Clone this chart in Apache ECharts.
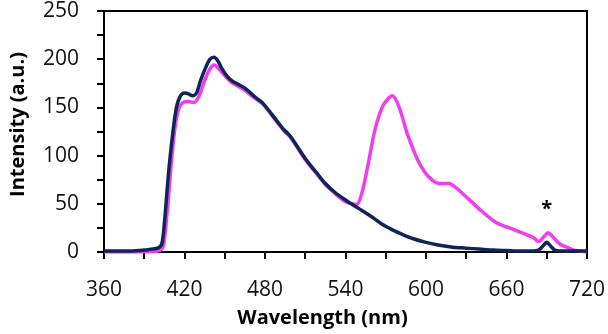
<!DOCTYPE html>
<html><head><meta charset="utf-8">
<script src="https://cdn.jsdelivr.net/npm/echarts@6/dist/echarts.min.js"></script>
<style>html,body{margin:0;padding:0;background:#fff}#c{width:608px;height:334px}</style>
</head><body><div id="c"></div>
<script>
// Wavelength (nm) / intensity pairs
const navyWl  = [360,380,390,395,400,403,405,408,411,414,417,420,423,426,429,432,436,439,442,445,448,452,456,460,465,470,475,478,485,490,494,497,500,510,518,525,532,540,550,560,567,575,582,590,600,610,620,630,640,650,660,670,680,684,687,690,693,696,700,710,720];
const navyVal = [1,1,2,3,4,8,30,80,120,150,162,165,164,162,165,178,192,200,202,198,190,182,177,174,170,164,158,155,143,134,127,123,118,97,83,71,62,54,45,36,29,23,18.5,14,10,7,5,4,3,2,1.5,1,1,2,6,10,6,2,1,1,1];
const pinkWl  = [360,380,400,404,407,410,413,416,419,423,427,431,435,439,442,445,450,455,460,465,470,478,485,490,494,497,500,510,518,525,532,540,545,548,552,557,562,568,575,580,586,594,602,610,617,622,627,634,641,647,653,660,666,673,680,684,688,691,695,700,705,710,715,720];
const pinkVal = [0,0,1,5,40,90,130,150,155,156,155,162,178,190,194,191,183,176,172,168,162,154,142,133,126,122,117,96,82,70,61,52,50,49,60,92,127,152,162,150,123,95,78,71,71,67,61,52,43,36,30,26,23,19,15,11,16,20,15,8,5,2,1,0];
const yTicks = [0,50,100,150,200,250];
const xTicks = [360,420,480,540,600,660,720];
const starMark = {wl: 690, val: 44, text: '*'};

const navy = navyWl.map((w,i)=>[w,navyVal[i]]);
const pink = pinkWl.map((w,i)=>[w,pinkVal[i]]);
const font = '"Open Sans", sans-serif';
const chart = echarts.init(document.getElementById('c'), null, {renderer:'canvas'});
chart.setOption({
  animation:false,
  backgroundColor:'#fff',
  grid:{left:101,right:21,top:11,bottom:82,show:true,borderColor:'#000',borderWidth:2,backgroundColor:'transparent'},
  xAxis:{type:'value',min:xTicks[0],max:xTicks[xTicks.length-1],interval:60,
    name:'Wavelength (nm)',nameLocation:'middle',nameGap:56,
    nameTextStyle:{fontFamily:font,fontWeight:'bold',fontSize:20,color:'#000',padding:[0,46,0,0]},
    axisLine:{show:true,onZero:false,lineStyle:{color:'#000',width:2}},
    axisTick:{show:true,length:7,lineStyle:{color:'#000',width:2}},
    minorTick:{show:true,splitNumber:2,length:7,lineStyle:{color:'#000',width:2}},
    splitLine:{show:false},
    axisLabel:{fontFamily:font,fontSize:21,color:'#111',margin:28}},
  yAxis:{type:'value',min:yTicks[0],max:yTicks[yTicks.length-1],interval:50,
    name:'Intensity (a.u.)',nameLocation:'middle',nameGap:76,
    nameTextStyle:{fontFamily:font,fontWeight:'bold',fontSize:20,color:'#000',padding:[0,0,0,14]},
    axisLine:{show:true,lineStyle:{color:'#000',width:2}},
    axisTick:{show:true,length:7,lineStyle:{color:'#000',width:2}},
    minorTick:{show:true,splitNumber:2,length:7,lineStyle:{color:'#000',width:2}},
    splitLine:{show:false},
    axisLabel:{fontFamily:font,fontSize:21,color:'#111',margin:25}},
  series:[
    {type:'line',data:pink,smooth:0.3,symbol:'none',lineStyle:{color:'#f23cf0',width:3.5},z:2,
      markPoint:{symbol:'circle',symbolSize:0,silent:true,
        data:[{coord:[starMark.wl,starMark.val],label:{show:true,formatter:starMark.text,fontFamily:font,fontWeight:'bold',fontSize:20,color:'#000',position:'inside'}}]}},
    {type:'line',data:navy,smooth:0.3,symbol:'none',lineStyle:{color:'#0f2458',width:3.5},z:3}
  ]
});
</script></body></html>
